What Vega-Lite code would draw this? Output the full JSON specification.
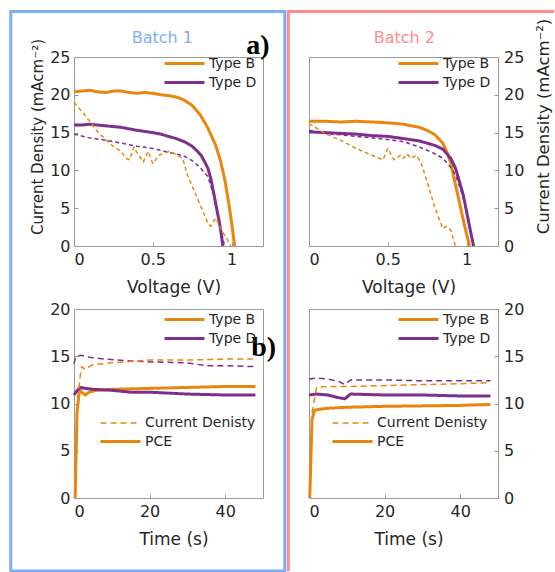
{
  "$schema": "https://vega.github.io/schema/vega-lite/v6.json",
  "padding": {"left": 8, "top": 8, "right": 0, "bottom": 0},
  "background": "white",
  "config": {
    "font": "DejaVu Sans",
    "view": {"stroke": "#9a9a9a", "strokeWidth": 1},
    "axis": {"grid": false, "domain": false, "tickSize": -4, "tickColor": "#9a9a9a", "labelFontSize": 16, "labelColor": "#262626", "titleFontSize": 17, "titleFontWeight": "normal", "titleColor": "#262626", "labelOverlap": false},
    "axisX": {"labelPadding": 9, "titleX": 99.5, "titleY": 46, "titleBaseline": "alphabetic"},
    "axisY": {"labelPadding": 8},
    "legend": {"labelFontSize": 14, "labelColor": "#262626", "padding": 0, "symbolType": "M-2,0H2", "symbolSize": 400, "symbolStrokeWidth": 3, "rowPadding": 0, "labelOffset": 13, "title": null}
  },
  "datasets": {
    "jv": [
      {"batch":"Batch 1","type":"Type B","scan":"solid","V":0,"J":20.4},
      {"batch":"Batch 1","type":"Type B","scan":"solid","V":0.05,"J":20.5},
      {"batch":"Batch 1","type":"Type B","scan":"solid","V":0.1,"J":20.6},
      {"batch":"Batch 1","type":"Type B","scan":"solid","V":0.15,"J":20.4},
      {"batch":"Batch 1","type":"Type B","scan":"solid","V":0.2,"J":20.3},
      {"batch":"Batch 1","type":"Type B","scan":"solid","V":0.25,"J":20.5},
      {"batch":"Batch 1","type":"Type B","scan":"solid","V":0.3,"J":20.5},
      {"batch":"Batch 1","type":"Type B","scan":"solid","V":0.35,"J":20.3},
      {"batch":"Batch 1","type":"Type B","scan":"solid","V":0.4,"J":20.2},
      {"batch":"Batch 1","type":"Type B","scan":"solid","V":0.45,"J":20.3},
      {"batch":"Batch 1","type":"Type B","scan":"solid","V":0.5,"J":20.2},
      {"batch":"Batch 1","type":"Type B","scan":"solid","V":0.55,"J":20.0},
      {"batch":"Batch 1","type":"Type B","scan":"solid","V":0.6,"J":19.9},
      {"batch":"Batch 1","type":"Type B","scan":"solid","V":0.65,"J":19.7},
      {"batch":"Batch 1","type":"Type B","scan":"solid","V":0.7,"J":19.3},
      {"batch":"Batch 1","type":"Type B","scan":"solid","V":0.75,"J":18.6},
      {"batch":"Batch 1","type":"Type B","scan":"solid","V":0.8,"J":17.4},
      {"batch":"Batch 1","type":"Type B","scan":"solid","V":0.85,"J":15.6},
      {"batch":"Batch 1","type":"Type B","scan":"solid","V":0.9,"J":13.3},
      {"batch":"Batch 1","type":"Type B","scan":"solid","V":0.93,"J":11.3},
      {"batch":"Batch 1","type":"Type B","scan":"solid","V":0.96,"J":8.5},
      {"batch":"Batch 1","type":"Type B","scan":"solid","V":0.98,"J":6.0},
      {"batch":"Batch 1","type":"Type B","scan":"solid","V":1.0,"J":3.2},
      {"batch":"Batch 1","type":"Type B","scan":"solid","V":1.02,"J":0},
      {"batch":"Batch 1","type":"Type D","scan":"solid","V":0,"J":16.0},
      {"batch":"Batch 1","type":"Type D","scan":"solid","V":0.05,"J":16.0},
      {"batch":"Batch 1","type":"Type D","scan":"solid","V":0.1,"J":16.1},
      {"batch":"Batch 1","type":"Type D","scan":"solid","V":0.15,"J":16.0},
      {"batch":"Batch 1","type":"Type D","scan":"solid","V":0.2,"J":15.9},
      {"batch":"Batch 1","type":"Type D","scan":"solid","V":0.3,"J":15.7},
      {"batch":"Batch 1","type":"Type D","scan":"solid","V":0.4,"J":15.3},
      {"batch":"Batch 1","type":"Type D","scan":"solid","V":0.5,"J":15.0},
      {"batch":"Batch 1","type":"Type D","scan":"solid","V":0.55,"J":14.8},
      {"batch":"Batch 1","type":"Type D","scan":"solid","V":0.6,"J":14.5},
      {"batch":"Batch 1","type":"Type D","scan":"solid","V":0.65,"J":14.2},
      {"batch":"Batch 1","type":"Type D","scan":"solid","V":0.7,"J":13.8},
      {"batch":"Batch 1","type":"Type D","scan":"solid","V":0.75,"J":13.2},
      {"batch":"Batch 1","type":"Type D","scan":"solid","V":0.78,"J":12.6},
      {"batch":"Batch 1","type":"Type D","scan":"solid","V":0.81,"J":11.9},
      {"batch":"Batch 1","type":"Type D","scan":"solid","V":0.85,"J":10.3},
      {"batch":"Batch 1","type":"Type D","scan":"solid","V":0.87,"J":8.8},
      {"batch":"Batch 1","type":"Type D","scan":"solid","V":0.89,"J":6.7},
      {"batch":"Batch 1","type":"Type D","scan":"solid","V":0.91,"J":4.5},
      {"batch":"Batch 1","type":"Type D","scan":"solid","V":0.93,"J":2.3},
      {"batch":"Batch 1","type":"Type D","scan":"solid","V":0.945,"J":0},
      {"batch":"Batch 1","type":"Type D","scan":"dashed","V":0,"J":14.8},
      {"batch":"Batch 1","type":"Type D","scan":"dashed","V":0.1,"J":14.3},
      {"batch":"Batch 1","type":"Type D","scan":"dashed","V":0.2,"J":14.0},
      {"batch":"Batch 1","type":"Type D","scan":"dashed","V":0.3,"J":13.6},
      {"batch":"Batch 1","type":"Type D","scan":"dashed","V":0.4,"J":13.2},
      {"batch":"Batch 1","type":"Type D","scan":"dashed","V":0.5,"J":12.9},
      {"batch":"Batch 1","type":"Type D","scan":"dashed","V":0.6,"J":12.4},
      {"batch":"Batch 1","type":"Type D","scan":"dashed","V":0.7,"J":11.9},
      {"batch":"Batch 1","type":"Type D","scan":"dashed","V":0.75,"J":11.3},
      {"batch":"Batch 1","type":"Type D","scan":"dashed","V":0.8,"J":10.4},
      {"batch":"Batch 1","type":"Type D","scan":"dashed","V":0.85,"J":9.2},
      {"batch":"Batch 1","type":"Type D","scan":"dashed","V":0.89,"J":6.5},
      {"batch":"Batch 1","type":"Type D","scan":"dashed","V":0.92,"J":3.8},
      {"batch":"Batch 1","type":"Type D","scan":"dashed","V":0.94,"J":1.6},
      {"batch":"Batch 1","type":"Type D","scan":"dashed","V":0.955,"J":0},
      {"batch":"Batch 1","type":"Type B","scan":"dashed","V":0,"J":19.0},
      {"batch":"Batch 1","type":"Type B","scan":"dashed","V":0.07,"J":17.3},
      {"batch":"Batch 1","type":"Type B","scan":"dashed","V":0.15,"J":15.1},
      {"batch":"Batch 1","type":"Type B","scan":"dashed","V":0.24,"J":13.3},
      {"batch":"Batch 1","type":"Type B","scan":"dashed","V":0.3,"J":12.5},
      {"batch":"Batch 1","type":"Type B","scan":"dashed","V":0.33,"J":11.6},
      {"batch":"Batch 1","type":"Type B","scan":"dashed","V":0.353,"J":11.4},
      {"batch":"Batch 1","type":"Type B","scan":"dashed","V":0.38,"J":13.1},
      {"batch":"Batch 1","type":"Type B","scan":"dashed","V":0.405,"J":12.2},
      {"batch":"Batch 1","type":"Type B","scan":"dashed","V":0.44,"J":11.1},
      {"batch":"Batch 1","type":"Type B","scan":"dashed","V":0.47,"J":12.5},
      {"batch":"Batch 1","type":"Type B","scan":"dashed","V":0.5,"J":10.9},
      {"batch":"Batch 1","type":"Type B","scan":"dashed","V":0.54,"J":12.0},
      {"batch":"Batch 1","type":"Type B","scan":"dashed","V":0.6,"J":12.5},
      {"batch":"Batch 1","type":"Type B","scan":"dashed","V":0.64,"J":12.2},
      {"batch":"Batch 1","type":"Type B","scan":"dashed","V":0.69,"J":11.6},
      {"batch":"Batch 1","type":"Type B","scan":"dashed","V":0.72,"J":9.4},
      {"batch":"Batch 1","type":"Type B","scan":"dashed","V":0.765,"J":7.2},
      {"batch":"Batch 1","type":"Type B","scan":"dashed","V":0.81,"J":5.0},
      {"batch":"Batch 1","type":"Type B","scan":"dashed","V":0.85,"J":3.0},
      {"batch":"Batch 1","type":"Type B","scan":"dashed","V":0.867,"J":2.6},
      {"batch":"Batch 1","type":"Type B","scan":"dashed","V":0.9,"J":3.7},
      {"batch":"Batch 1","type":"Type B","scan":"dashed","V":0.94,"J":2.0},
      {"batch":"Batch 1","type":"Type B","scan":"dashed","V":0.97,"J":1.0},
      {"batch":"Batch 1","type":"Type B","scan":"dashed","V":0.995,"J":0},
      {"batch":"Batch 2","type":"Type B","scan":"solid","V":0,"J":16.5},
      {"batch":"Batch 2","type":"Type B","scan":"solid","V":0.1,"J":16.5},
      {"batch":"Batch 2","type":"Type B","scan":"solid","V":0.2,"J":16.4},
      {"batch":"Batch 2","type":"Type B","scan":"solid","V":0.3,"J":16.5},
      {"batch":"Batch 2","type":"Type B","scan":"solid","V":0.4,"J":16.4},
      {"batch":"Batch 2","type":"Type B","scan":"solid","V":0.5,"J":16.3},
      {"batch":"Batch 2","type":"Type B","scan":"solid","V":0.6,"J":16.1},
      {"batch":"Batch 2","type":"Type B","scan":"solid","V":0.7,"J":15.7},
      {"batch":"Batch 2","type":"Type B","scan":"solid","V":0.75,"J":15.3},
      {"batch":"Batch 2","type":"Type B","scan":"solid","V":0.8,"J":14.7},
      {"batch":"Batch 2","type":"Type B","scan":"solid","V":0.85,"J":13.6},
      {"batch":"Batch 2","type":"Type B","scan":"solid","V":0.88,"J":12.2},
      {"batch":"Batch 2","type":"Type B","scan":"solid","V":0.9,"J":11.0},
      {"batch":"Batch 2","type":"Type B","scan":"solid","V":0.92,"J":9.0},
      {"batch":"Batch 2","type":"Type B","scan":"solid","V":0.94,"J":7.2},
      {"batch":"Batch 2","type":"Type B","scan":"solid","V":0.96,"J":5.3},
      {"batch":"Batch 2","type":"Type B","scan":"solid","V":0.98,"J":3.4},
      {"batch":"Batch 2","type":"Type B","scan":"solid","V":1.0,"J":1.6},
      {"batch":"Batch 2","type":"Type B","scan":"solid","V":1.02,"J":0},
      {"batch":"Batch 2","type":"Type D","scan":"solid","V":0,"J":15.1},
      {"batch":"Batch 2","type":"Type D","scan":"solid","V":0.1,"J":15.0},
      {"batch":"Batch 2","type":"Type D","scan":"solid","V":0.2,"J":14.9},
      {"batch":"Batch 2","type":"Type D","scan":"solid","V":0.3,"J":14.8},
      {"batch":"Batch 2","type":"Type D","scan":"solid","V":0.4,"J":14.6},
      {"batch":"Batch 2","type":"Type D","scan":"solid","V":0.5,"J":14.5},
      {"batch":"Batch 2","type":"Type D","scan":"solid","V":0.6,"J":14.2},
      {"batch":"Batch 2","type":"Type D","scan":"solid","V":0.7,"J":13.9},
      {"batch":"Batch 2","type":"Type D","scan":"solid","V":0.8,"J":13.3},
      {"batch":"Batch 2","type":"Type D","scan":"solid","V":0.85,"J":12.8},
      {"batch":"Batch 2","type":"Type D","scan":"solid","V":0.9,"J":11.6},
      {"batch":"Batch 2","type":"Type D","scan":"solid","V":0.93,"J":10.3},
      {"batch":"Batch 2","type":"Type D","scan":"solid","V":0.95,"J":8.9},
      {"batch":"Batch 2","type":"Type D","scan":"solid","V":0.98,"J":6.7},
      {"batch":"Batch 2","type":"Type D","scan":"solid","V":1.0,"J":4.6},
      {"batch":"Batch 2","type":"Type D","scan":"solid","V":1.02,"J":2.5},
      {"batch":"Batch 2","type":"Type D","scan":"solid","V":1.035,"J":1.0},
      {"batch":"Batch 2","type":"Type D","scan":"solid","V":1.045,"J":0},
      {"batch":"Batch 2","type":"Type D","scan":"dashed","V":0,"J":15.3},
      {"batch":"Batch 2","type":"Type D","scan":"dashed","V":0.1,"J":14.9},
      {"batch":"Batch 2","type":"Type D","scan":"dashed","V":0.2,"J":14.7},
      {"batch":"Batch 2","type":"Type D","scan":"dashed","V":0.3,"J":14.5},
      {"batch":"Batch 2","type":"Type D","scan":"dashed","V":0.4,"J":14.3},
      {"batch":"Batch 2","type":"Type D","scan":"dashed","V":0.5,"J":14.1},
      {"batch":"Batch 2","type":"Type D","scan":"dashed","V":0.6,"J":13.8},
      {"batch":"Batch 2","type":"Type D","scan":"dashed","V":0.7,"J":13.1},
      {"batch":"Batch 2","type":"Type D","scan":"dashed","V":0.8,"J":12.2},
      {"batch":"Batch 2","type":"Type D","scan":"dashed","V":0.85,"J":11.6},
      {"batch":"Batch 2","type":"Type D","scan":"dashed","V":0.9,"J":10.4},
      {"batch":"Batch 2","type":"Type D","scan":"dashed","V":0.93,"J":9.4},
      {"batch":"Batch 2","type":"Type D","scan":"dashed","V":0.96,"J":7.6},
      {"batch":"Batch 2","type":"Type D","scan":"dashed","V":0.99,"J":5.6},
      {"batch":"Batch 2","type":"Type D","scan":"dashed","V":1.01,"J":4.0},
      {"batch":"Batch 2","type":"Type D","scan":"dashed","V":1.03,"J":1.5},
      {"batch":"Batch 2","type":"Type D","scan":"dashed","V":1.04,"J":0},
      {"batch":"Batch 2","type":"Type B","scan":"dashed","V":0,"J":16.2},
      {"batch":"Batch 2","type":"Type B","scan":"dashed","V":0.1,"J":14.9},
      {"batch":"Batch 2","type":"Type B","scan":"dashed","V":0.2,"J":14.0},
      {"batch":"Batch 2","type":"Type B","scan":"dashed","V":0.3,"J":12.9},
      {"batch":"Batch 2","type":"Type B","scan":"dashed","V":0.4,"J":12.0},
      {"batch":"Batch 2","type":"Type B","scan":"dashed","V":0.47,"J":11.4},
      {"batch":"Batch 2","type":"Type B","scan":"dashed","V":0.5,"J":12.9},
      {"batch":"Batch 2","type":"Type B","scan":"dashed","V":0.54,"J":11.4},
      {"batch":"Batch 2","type":"Type B","scan":"dashed","V":0.58,"J":12.0},
      {"batch":"Batch 2","type":"Type B","scan":"dashed","V":0.6,"J":11.6},
      {"batch":"Batch 2","type":"Type B","scan":"dashed","V":0.62,"J":12.2},
      {"batch":"Batch 2","type":"Type B","scan":"dashed","V":0.65,"J":11.6},
      {"batch":"Batch 2","type":"Type B","scan":"dashed","V":0.68,"J":12.0},
      {"batch":"Batch 2","type":"Type B","scan":"dashed","V":0.71,"J":11.1},
      {"batch":"Batch 2","type":"Type B","scan":"dashed","V":0.75,"J":8.5},
      {"batch":"Batch 2","type":"Type B","scan":"dashed","V":0.8,"J":5.0},
      {"batch":"Batch 2","type":"Type B","scan":"dashed","V":0.85,"J":2.3},
      {"batch":"Batch 2","type":"Type B","scan":"dashed","V":0.87,"J":2.6},
      {"batch":"Batch 2","type":"Type B","scan":"dashed","V":0.9,"J":2.1},
      {"batch":"Batch 2","type":"Type B","scan":"dashed","V":0.93,"J":0}
    ],
    "time": [
      {"batch":"Batch 1","type":"Type B","kind":"PCE","t":0.3,"val":0},
      {"batch":"Batch 1","type":"Type B","kind":"PCE","t":0.8,"val":9.1},
      {"batch":"Batch 1","type":"Type B","kind":"PCE","t":1.5,"val":11.6},
      {"batch":"Batch 1","type":"Type B","kind":"PCE","t":2,"val":11.2},
      {"batch":"Batch 1","type":"Type B","kind":"PCE","t":3,"val":10.9},
      {"batch":"Batch 1","type":"Type B","kind":"PCE","t":4,"val":11.2},
      {"batch":"Batch 1","type":"Type B","kind":"PCE","t":6,"val":11.4},
      {"batch":"Batch 1","type":"Type B","kind":"PCE","t":10,"val":11.5},
      {"batch":"Batch 1","type":"Type B","kind":"PCE","t":20,"val":11.6},
      {"batch":"Batch 1","type":"Type B","kind":"PCE","t":30,"val":11.7},
      {"batch":"Batch 1","type":"Type B","kind":"PCE","t":40,"val":11.8},
      {"batch":"Batch 1","type":"Type B","kind":"PCE","t":48,"val":11.8},
      {"batch":"Batch 1","type":"Type D","kind":"PCE","t":0,"val":10.9},
      {"batch":"Batch 1","type":"Type D","kind":"PCE","t":0.5,"val":11.2},
      {"batch":"Batch 1","type":"Type D","kind":"PCE","t":1.5,"val":11.7},
      {"batch":"Batch 1","type":"Type D","kind":"PCE","t":3,"val":11.6},
      {"batch":"Batch 1","type":"Type D","kind":"PCE","t":5,"val":11.5},
      {"batch":"Batch 1","type":"Type D","kind":"PCE","t":10,"val":11.4},
      {"batch":"Batch 1","type":"Type D","kind":"PCE","t":15,"val":11.2},
      {"batch":"Batch 1","type":"Type D","kind":"PCE","t":20,"val":11.2},
      {"batch":"Batch 1","type":"Type D","kind":"PCE","t":30,"val":11.0},
      {"batch":"Batch 1","type":"Type D","kind":"PCE","t":40,"val":10.9},
      {"batch":"Batch 1","type":"Type D","kind":"PCE","t":48,"val":10.9},
      {"batch":"Batch 1","type":"Type D","kind":"Current Denisty","t":0,"val":14.2},
      {"batch":"Batch 1","type":"Type D","kind":"Current Denisty","t":0.5,"val":15.0},
      {"batch":"Batch 1","type":"Type D","kind":"Current Denisty","t":2,"val":15.1},
      {"batch":"Batch 1","type":"Type D","kind":"Current Denisty","t":4,"val":14.9},
      {"batch":"Batch 1","type":"Type D","kind":"Current Denisty","t":8,"val":14.7},
      {"batch":"Batch 1","type":"Type D","kind":"Current Denisty","t":15,"val":14.5},
      {"batch":"Batch 1","type":"Type D","kind":"Current Denisty","t":20,"val":14.4},
      {"batch":"Batch 1","type":"Type D","kind":"Current Denisty","t":30,"val":14.3},
      {"batch":"Batch 1","type":"Type D","kind":"Current Denisty","t":35,"val":14.0},
      {"batch":"Batch 1","type":"Type D","kind":"Current Denisty","t":40,"val":14.0},
      {"batch":"Batch 1","type":"Type D","kind":"Current Denisty","t":48,"val":13.9},
      {"batch":"Batch 1","type":"Type B","kind":"Current Denisty","t":0.8,"val":9.5},
      {"batch":"Batch 1","type":"Type B","kind":"Current Denisty","t":1.5,"val":12.5},
      {"batch":"Batch 1","type":"Type B","kind":"Current Denisty","t":2,"val":13.9},
      {"batch":"Batch 1","type":"Type B","kind":"Current Denisty","t":3,"val":13.6},
      {"batch":"Batch 1","type":"Type B","kind":"Current Denisty","t":4,"val":13.9},
      {"batch":"Batch 1","type":"Type B","kind":"Current Denisty","t":5,"val":14.1},
      {"batch":"Batch 1","type":"Type B","kind":"Current Denisty","t":10,"val":14.3},
      {"batch":"Batch 1","type":"Type B","kind":"Current Denisty","t":20,"val":14.6},
      {"batch":"Batch 1","type":"Type B","kind":"Current Denisty","t":30,"val":14.6},
      {"batch":"Batch 1","type":"Type B","kind":"Current Denisty","t":40,"val":14.7},
      {"batch":"Batch 1","type":"Type B","kind":"Current Denisty","t":48,"val":14.7},
      {"batch":"Batch 2","type":"Type B","kind":"PCE","t":0.2,"val":0},
      {"batch":"Batch 2","type":"Type B","kind":"PCE","t":0.8,"val":8.3},
      {"batch":"Batch 2","type":"Type B","kind":"PCE","t":1.5,"val":9.3},
      {"batch":"Batch 2","type":"Type B","kind":"PCE","t":3,"val":9.4},
      {"batch":"Batch 2","type":"Type B","kind":"PCE","t":5,"val":9.5},
      {"batch":"Batch 2","type":"Type B","kind":"PCE","t":10,"val":9.6},
      {"batch":"Batch 2","type":"Type B","kind":"PCE","t":20,"val":9.7},
      {"batch":"Batch 2","type":"Type B","kind":"PCE","t":30,"val":9.75},
      {"batch":"Batch 2","type":"Type B","kind":"PCE","t":40,"val":9.8},
      {"batch":"Batch 2","type":"Type B","kind":"PCE","t":48,"val":9.9},
      {"batch":"Batch 2","type":"Type D","kind":"PCE","t":0,"val":10.9},
      {"batch":"Batch 2","type":"Type D","kind":"PCE","t":2,"val":11.0},
      {"batch":"Batch 2","type":"Type D","kind":"PCE","t":5,"val":10.9},
      {"batch":"Batch 2","type":"Type D","kind":"PCE","t":8,"val":10.6},
      {"batch":"Batch 2","type":"Type D","kind":"PCE","t":9.5,"val":10.5},
      {"batch":"Batch 2","type":"Type D","kind":"PCE","t":11,"val":11.0},
      {"batch":"Batch 2","type":"Type D","kind":"PCE","t":20,"val":10.9},
      {"batch":"Batch 2","type":"Type D","kind":"PCE","t":30,"val":10.9},
      {"batch":"Batch 2","type":"Type D","kind":"PCE","t":40,"val":10.8},
      {"batch":"Batch 2","type":"Type D","kind":"PCE","t":48,"val":10.8},
      {"batch":"Batch 2","type":"Type D","kind":"Current Denisty","t":0,"val":12.6},
      {"batch":"Batch 2","type":"Type D","kind":"Current Denisty","t":2,"val":12.7},
      {"batch":"Batch 2","type":"Type D","kind":"Current Denisty","t":5,"val":12.6},
      {"batch":"Batch 2","type":"Type D","kind":"Current Denisty","t":8,"val":12.3},
      {"batch":"Batch 2","type":"Type D","kind":"Current Denisty","t":9.5,"val":12.0},
      {"batch":"Batch 2","type":"Type D","kind":"Current Denisty","t":11,"val":12.5},
      {"batch":"Batch 2","type":"Type D","kind":"Current Denisty","t":20,"val":12.5},
      {"batch":"Batch 2","type":"Type D","kind":"Current Denisty","t":30,"val":12.4},
      {"batch":"Batch 2","type":"Type D","kind":"Current Denisty","t":40,"val":12.4},
      {"batch":"Batch 2","type":"Type D","kind":"Current Denisty","t":48,"val":12.4},
      {"batch":"Batch 2","type":"Type B","kind":"Current Denisty","t":0.8,"val":9.0},
      {"batch":"Batch 2","type":"Type B","kind":"Current Denisty","t":2,"val":11.7},
      {"batch":"Batch 2","type":"Type B","kind":"Current Denisty","t":5,"val":11.8},
      {"batch":"Batch 2","type":"Type B","kind":"Current Denisty","t":10,"val":11.8},
      {"batch":"Batch 2","type":"Type B","kind":"Current Denisty","t":20,"val":11.9},
      {"batch":"Batch 2","type":"Type B","kind":"Current Denisty","t":30,"val":12.0},
      {"batch":"Batch 2","type":"Type B","kind":"Current Denisty","t":40,"val":12.1},
      {"batch":"Batch 2","type":"Type B","kind":"Current Denisty","t":48,"val":12.2}
    ]
  },
  "columns": 2,
  "spacing": {"row": 63, "column": 46},
  "bounds": "flush",
  "resolve": {"scale": {"color": "independent", "strokeDash": "independent", "strokeWidth": "independent", "x": "independent", "y": "independent"}},
  "concat": [
    {
      "width": 189, "height": 189,
      "resolve": {"scale": {"x": "independent", "y": "independent"}},
      "layer": [
        {
          "data": {"name": "jv"},
          "transform": [{"filter": "datum.batch === 'Batch 1'"}],
          "mark": {"type": "line", "strokeJoin": "round"},
          "encoding": {
            "x": {"field": "V", "type": "quantitative", "scale": {"domain": [0, 1.2], "nice": false}, "axis": {"values": [0, 0.5, 1], "format": "~g", "title": "Voltage (V)"}},
            "y": {"field": "J", "type": "quantitative", "scale": {"domain": [0, 25], "nice": false}, "axis": {"values": [0, 5, 10, 15, 20, 25], "labelOverlap": false, "title": "Current Density (mAcm⁻²)", "titleFontSize": 15, "titleY": 79.5, "titlePadding": 4}},
            "color": {"field": "type", "type": "nominal", "scale": {"domain": ["Type B", "Type D"], "range": ["#E8870E", "#7E2F8E"]}, "legend": {"orient": "none", "legendX": 99, "legendY": -5}},
            "strokeDash": {"field": "scan", "type": "nominal", "scale": {"domain": ["solid", "dashed"], "range": [[1, 0], [4, 3]]}, "legend": null},
            "strokeWidth": {"field": "scan", "type": "ordinal", "scale": {"domain": ["solid", "dashed"], "range": [3, 1.5]}, "legend": null}
          }
        },
        {
          "data": {"values": [{}]},
          "mark": {"type": "rect", "fill": "transparent", "stroke": "#7CAEF8", "strokeWidth": 3},
          "encoding": {
            "x": {"datum": -0.4013, "type": "quantitative", "scale": {"domain": [0, 1.2], "nice": false}, "axis": null},
            "x2": {"datum": 1.3384},
            "y": {"datum": 31.02, "type": "quantitative", "scale": {"domain": [0, 25], "nice": false}, "axis": null},
            "y2": {"datum": -43.0}
          }
        },
        {
          "data": {"values": [{"label": "a)"}]},
          "mark": {"type": "text", "font": "Liberation Serif", "fontWeight": "bold", "fontSize": 28, "align": "left", "baseline": "alphabetic", "color": "black"},
          "encoding": {
            "x": {"datum": 1.094, "type": "quantitative", "scale": {"domain": [0, 1.2], "nice": false}, "axis": null},
            "y": {"datum": 25.4, "type": "quantitative", "scale": {"domain": [0, 25], "nice": false}, "axis": null},
            "text": {"field": "label"}
          }
        },
        {
          "data": {"values": [{"label": "Batch 1"}]},
          "mark": {"type": "text", "fontSize": 16, "align": "center", "baseline": "alphabetic", "color": "#7CAEF8"},
          "encoding": {
            "x": {"datum": 0.5606, "type": "quantitative", "scale": {"domain": [0, 1.2], "nice": false}, "axis": null},
            "y": {"datum": 26.85, "type": "quantitative", "scale": {"domain": [0, 25], "nice": false}, "axis": null},
            "text": {"field": "label"}
          }
        }
      ]
    },
    {
      "width": 189, "height": 189,
      "resolve": {"scale": {"x": "independent", "y": "independent"}},
      "layer": [
        {
          "data": {"name": "jv"},
          "transform": [{"filter": "datum.batch === 'Batch 2'"}],
          "mark": {"type": "line", "strokeJoin": "round"},
          "encoding": {
            "x": {"field": "V", "type": "quantitative", "scale": {"domain": [0, 1.2], "nice": false}, "axis": {"values": [0, 0.5, 1], "format": "~g", "title": "Voltage (V)"}},
            "y": {"field": "J", "type": "quantitative", "scale": {"domain": [0, 25], "nice": false}, "axis": {"orient": "right", "values": [0, 5, 10, 15, 20, 25], "labelOverlap": false, "title": "Current Density (mAcm⁻²)", "titleFontSize": 16.5, "titleAngle": 270, "titleY": 69, "titlePadding": 12, "titleBaseline": "top", "labelPadding": 9.5}},
            "color": {"field": "type", "type": "nominal", "scale": {"domain": ["Type B", "Type D"], "range": ["#E8870E", "#7E2F8E"]}, "legend": {"orient": "none", "legendX": 98, "legendY": -5}},
            "strokeDash": {"field": "scan", "type": "nominal", "scale": {"domain": ["solid", "dashed"], "range": [[1, 0], [4, 3]]}, "legend": null},
            "strokeWidth": {"field": "scan", "type": "ordinal", "scale": {"domain": ["solid", "dashed"], "range": [3, 1.5]}, "legend": null}
          }
        },
        {
          "data": {"values": [{}]},
          "mark": {"type": "rule", "stroke": "#FF8C8C", "strokeWidth": 3},
          "encoding": {
            "x": {"datum": -0.1314, "type": "quantitative", "scale": {"domain": [0, 1.2], "nice": false}, "axis": null},
            "x2": {"datum": 1.5575},
            "y": {"datum": 31.02, "type": "quantitative", "scale": {"domain": [0, 25], "nice": false}, "axis": null}
          }
        },
        {
          "data": {"values": [{}]},
          "mark": {"type": "rule", "stroke": "#FF8C8C", "strokeWidth": 3},
          "encoding": {
            "x": {"datum": -0.1314, "type": "quantitative", "scale": {"domain": [0, 1.2], "nice": false}, "axis": null},
            "y": {"datum": 31.2, "type": "quantitative", "scale": {"domain": [0, 25], "nice": false}, "axis": null},
            "y2": {"datum": -43.0}
          }
        },
        {
          "data": {"values": [{"label": "Batch 2"}]},
          "mark": {"type": "text", "fontSize": 16, "align": "center", "baseline": "alphabetic", "color": "#FF8C8C"},
          "encoding": {
            "x": {"datum": 0.605, "type": "quantitative", "scale": {"domain": [0, 1.2], "nice": false}, "axis": null},
            "y": {"datum": 26.85, "type": "quantitative", "scale": {"domain": [0, 25], "nice": false}, "axis": null},
            "text": {"field": "label"}
          }
        }
      ]
    },
    {
      "width": 189, "height": 189,
      "layer": [
        {
          "data": {"name": "time"},
          "transform": [{"filter": "datum.batch === 'Batch 1'"}],
          "mark": {"type": "line", "strokeJoin": "round"},
          "encoding": {
            "x": {"field": "t", "type": "quantitative", "scale": {"domain": [0, 50], "nice": false}, "axis": {"values": [0, 20, 40], "title": "Time (s)"}},
            "y": {"field": "val", "type": "quantitative", "scale": {"domain": [0, 20], "nice": false}, "axis": {"values": [0, 5, 10, 15, 20], "title": null}},
            "color": {"field": "type", "type": "nominal", "scale": {"domain": ["Type B", "Type D"], "range": ["#E8870E", "#7E2F8E"]}, "legend": {"orient": "none", "legendX": 99, "legendY": -1}},
            "strokeDash": {"field": "kind", "type": "nominal", "scale": {"domain": ["Current Denisty", "PCE"], "range": [[6, 4], [1, 0]]}, "legend": {"orient": "none", "legendX": 35, "legendY": 103, "symbolStrokeColor": "#E8870E", "symbolStrokeWidth": 2.2}},
            "strokeWidth": {"field": "kind", "type": "ordinal", "scale": {"domain": ["Current Denisty", "PCE"], "range": [1.5, 3]}, "legend": null}
          }
        },
        {
          "data": {"values": [{"label": "b)"}]},
          "mark": {"type": "text", "font": "Liberation Serif", "fontWeight": "bold", "fontSize": 28, "align": "left", "baseline": "alphabetic", "color": "black"},
          "encoding": {
            "x": {"datum": 46.9, "type": "quantitative", "scale": {"domain": [0, 50], "nice": false}},
            "y": {"datum": 15.0, "type": "quantitative", "scale": {"domain": [0, 20], "nice": false}},
            "text": {"field": "label"}
          }
        }
      ]
    },
    {
      "width": 189, "height": 189,
      "layer": [
        {
          "data": {"name": "time"},
          "transform": [{"filter": "datum.batch === 'Batch 2'"}],
          "mark": {"type": "line", "strokeJoin": "round"},
          "encoding": {
            "x": {"field": "t", "type": "quantitative", "scale": {"domain": [0, 50], "nice": false}, "axis": {"values": [0, 20, 40], "title": "Time (s)"}},
            "y": {"field": "val", "type": "quantitative", "scale": {"domain": [0, 20], "nice": false}, "axis": {"orient": "right", "values": [0, 5, 10, 15, 20], "title": null, "labelPadding": 9.5}},
            "color": {"field": "type", "type": "nominal", "scale": {"domain": ["Type B", "Type D"], "range": ["#E8870E", "#7E2F8E"]}, "legend": {"orient": "none", "legendX": 98, "legendY": -1}},
            "strokeDash": {"field": "kind", "type": "nominal", "scale": {"domain": ["Current Denisty", "PCE"], "range": [[6, 4], [1, 0]]}, "legend": {"orient": "none", "legendX": 32, "legendY": 103, "symbolStrokeColor": "#E8870E", "symbolStrokeWidth": 2.2}},
            "strokeWidth": {"field": "kind", "type": "ordinal", "scale": {"domain": ["Current Denisty", "PCE"], "range": [1.5, 3]}, "legend": null}
          }
        }
      ]
    }
  ]
}
